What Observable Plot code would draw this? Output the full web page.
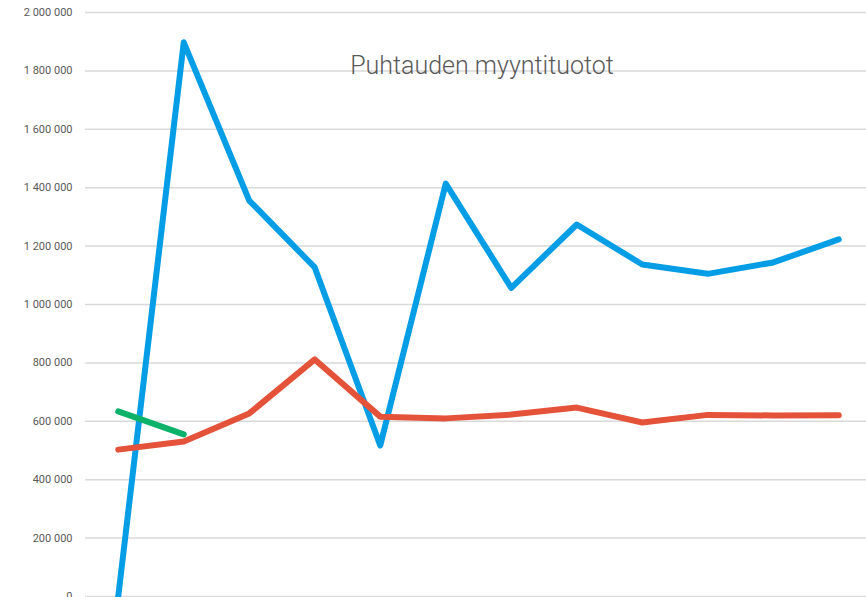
<!DOCTYPE html>
<html>
<head>
<meta charset="utf-8">
<script src="https://cdn.jsdelivr.net/npm/d3@7"></script>
<script src="https://cdn.jsdelivr.net/npm/@observablehq/plot@0.6"></script>
<style>
  html, body { margin: 0; padding: 0; background: #fff; overflow: hidden; }
  #chart svg { display: block; }
</style>
</head>
<body>
<div id="chart"></div>
<script>
const title = "Puhtauden myyntituotot";
const periods = [1, 2, 3, 4, 5, 6, 7, 8, 9, 10, 11, 12];
const blueValues = [0, 1898000, 1356000, 1127000, 517000, 1414000, 1057000, 1274000, 1137000, 1105000, 1144000, 1223000];
const redValues = [503000, 531000, 627000, 812000, 616000, 610000, 623000, 647000, 596000, 622000, 620000, 621000];
const greenPeriods = [1, 2];
const greenValues = [634000, 555000];
const yTicks = [0, 200000, 400000, 600000, 800000, 1000000, 1200000, 1400000, 1600000, 1800000, 2000000];

const blue = periods.map((p, i) => ({p, v: blueValues[i]}));
const red = periods.map((p, i) => ({p, v: redValues[i]}));
const green = greenPeriods.map((p, i) => ({p, v: greenValues[i]}));

const fmt = d3.formatLocale({decimal: ",", thousands: " ", grouping: [3], currency: ["", ""]}).format(",");

const lineStyle = {x: "p", y: "v", strokeWidth: 6, strokeLinecap: "round", strokeLinejoin: "round"};

const chart = Plot.plot({
  width: 866,
  height: 597,
  marginLeft: 85,
  marginRight: 0,
  marginTop: 12,
  marginBottom: 1,
  style: {fontFamily: "Roboto, sans-serif", fontSize: "11px", color: "#595959", background: "#fff", overflow: "visible"},
  x: {domain: [0.5, 12.5], range: [85, 871], axis: null},
  y: {domain: [0, 2000000], ticks: yTicks, tickFormat: fmt, tickSize: 0, tickPadding: 13, label: null},
  marks: [
    Plot.ruleY(yTicks, {stroke: "#d9d9d9", strokeWidth: 1.5}),
    Plot.axisY({ticks: yTicks, tickFormat: fmt, tickSize: 0, tickPadding: 13, label: null, fill: "#595959"}),
    Plot.text([title], {frameAnchor: "top", dx: 6, dy: 44, text: d => d, fontSize: 25, fontWeight: 300, fill: "#595959", fontFamily: "Roboto, sans-serif"}),
    Plot.line(blue, {...lineStyle, stroke: "#059DE6"}),
    Plot.line(red, {...lineStyle, stroke: "#E5523A"}),
    Plot.line(green, {...lineStyle, stroke: "#0DB26A"})
  ]
});
document.getElementById("chart").appendChild(chart);
</script>
</body>
</html>
